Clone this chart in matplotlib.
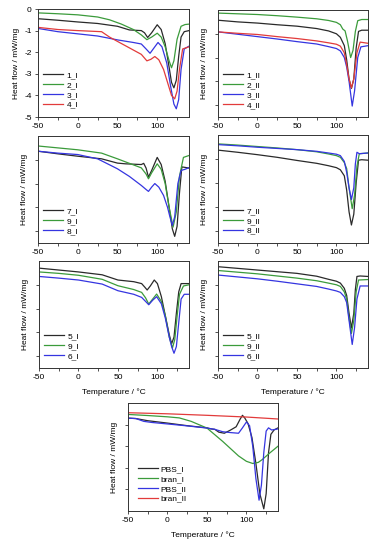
import numpy as np
import matplotlib
matplotlib.use('Agg')
import matplotlib.pyplot as plt
from matplotlib.ticker import MultipleLocator

plt.rcParams['font.family'] = ['Liberation Sans', 'DejaVu Sans']
plt.rcParams['font.size'] = 6
plt.rcParams['axes.unicode_minus'] = False
plt.rcParams['axes.linewidth'] = 0.7
plt.rcParams['axes.edgecolor'] = '#333333'

K, G, B, R = '#2a2a2a', '#3b9b3b', '#3535e0', '#e23b3b'

# ---- panel a: 1_I .. 4_I
t_1I = [-50, -25, 0, 25, 50, 65, 80, 84, 88, 93, 100, 105, 110, 115, 118, 121, 124, 127, 130, 134, 140]
h_1I = [-0.45, -0.52, -0.6, -0.67, -0.8, -0.97, -1.0, -1.1, -1.32, -1.1, -0.73, -0.95, -1.6, -2.7, -3.4, -3.65, -3.3, -2.2, -1.3, -1.05, -1.0]
t_2I = [-50, -25, 0, 25, 40, 55, 70, 80, 87, 93, 100, 105, 110, 115, 118, 121, 125, 130, 135, 140]
h_2I = [-0.18, -0.22, -0.27, -0.37, -0.5, -0.7, -0.95, -1.2, -1.42, -1.3, -1.12, -1.3, -1.75, -2.4, -2.72, -2.4, -1.4, -0.8, -0.72, -0.7]
t_3I = [-50, -25, 0, 25, 50, 70, 80, 86, 91, 96, 101, 106, 112, 117, 121, 124, 127, 130, 134, 140]
h_3I = [-0.9, -1.05, -1.15, -1.25, -1.43, -1.55, -1.62, -1.85, -2.05, -1.8, -1.55, -1.75, -2.5, -3.6, -4.4, -4.62, -4.2, -2.8, -1.85, -1.72]
t_4I = [-50, -25, 0, 30, 40, 50, 60, 70, 80, 87, 92, 97, 102, 108, 113, 118, 122, 125, 128, 132, 140]
h_4I = [-0.85, -0.95, -1.0, -1.05, -1.3, -1.5, -1.7, -1.9, -2.1, -2.4, -2.33, -2.2, -2.35, -2.8, -3.4, -4.0, -4.16, -3.8, -2.8, -1.85, -1.75]

# ---- panel b: 1_II .. 4_II
t_1II = [-50, -25, 0, 25, 50, 75, 90, 100, 105, 110, 113, 116, 119, 122, 125, 128, 132, 140]
h_1II = [-0.43, -0.5, -0.55, -0.62, -0.68, -0.78, -0.88, -1.0, -1.15, -1.5, -2.1, -2.9, -3.3, -2.9, -1.6, -0.9, -0.85, -0.85]
t_2II = [-50, -25, 0, 25, 50, 75, 90, 100, 105, 108, 111, 114, 118, 121, 124, 127, 132, 140]
h_2II = [-0.13, -0.16, -0.19, -0.24, -0.3, -0.37, -0.44, -0.52, -0.62, -0.8, -0.88, -1.3, -2.0, -1.7, -0.9, -0.45, -0.4, -0.4]
t_3II = [-50, -25, 0, 25, 50, 75, 90, 100, 105, 110, 113, 116, 120, 123, 127, 131, 140]
h_3II = [-0.92, -1.02, -1.12, -1.22, -1.33, -1.43, -1.54, -1.62, -1.72, -2.0, -2.4, -3.0, -4.04, -3.4, -2.0, -1.55, -1.5]
t_4II = [-50, -25, 0, 25, 50, 75, 90, 100, 105, 110, 113, 116, 119, 122, 126, 130, 140]
h_4II = [-0.92, -0.98, -1.03, -1.12, -1.2, -1.3, -1.38, -1.44, -1.52, -1.8, -2.3, -2.9, -3.28, -2.9, -1.8, -1.35, -1.4]

# ---- panel c: 7_I, 9_I, 8_I
t_7I = [-50, -25, 0, 30, 50, 60, 80, 83, 86, 89, 93, 100, 105, 110, 115, 119, 122, 125, 128, 131, 135, 140]
h_7I = [-0.64, -0.75, -0.85, -0.96, -1.14, -1.17, -1.2, -1.15, -1.35, -1.73, -1.45, -0.9, -1.2, -1.9, -3.0, -3.9, -4.22, -3.8, -2.4, -1.3, -1.32, -1.35]
t_9I = [-50, -25, 0, 30, 50, 65, 80, 86, 89, 93, 100, 105, 110, 115, 120, 124, 128, 133, 140]
h_9I = [-0.42, -0.5, -0.58, -0.72, -0.96, -1.15, -1.34, -1.6, -1.8, -1.55, -1.17, -1.4, -2.0, -3.0, -3.83, -3.2, -1.7, -0.9, -0.82]
t_8I = [-50, -25, 0, 25, 50, 65, 80, 86, 89, 93, 97, 102, 108, 113, 116, 119, 122, 126, 130, 135, 140]
h_8I = [-0.64, -0.72, -0.78, -0.96, -1.38, -1.7, -2.08, -2.25, -2.33, -2.15, -2.0, -2.15, -2.5, -3.0, -3.4, -3.76, -3.4, -2.0, -1.45, -1.4, -1.33]

# ---- panel d: 7_II, 9_II, 8_II
t_7II = [-50, -25, 0, 25, 50, 75, 90, 100, 105, 110, 113, 116, 119, 122, 125, 128, 132, 140]
h_7II = [-0.63, -0.72, -0.82, -0.93, -1.06, -1.18, -1.28, -1.36, -1.45, -1.7, -2.3, -3.2, -3.75, -3.3, -2.0, -1.05, -1.03, -1.05]
t_9II = [-50, -25, 0, 25, 50, 75, 90, 100, 105, 110, 113, 116, 120, 123, 126, 129, 140]
h_9II = [-0.37, -0.42, -0.48, -0.54, -0.61, -0.7, -0.79, -0.86, -0.93, -1.15, -1.4, -2.2, -3.07, -2.5, -1.3, -0.78, -0.75]
t_8II = [-50, -25, 0, 25, 50, 75, 90, 100, 105, 110, 113, 116, 119, 122, 124, 126, 129, 140]
h_8II = [-0.4, -0.45, -0.51, -0.56, -0.61, -0.68, -0.75, -0.8, -0.86, -1.1, -1.56, -2.2, -2.69, -2.2, -1.2, -0.72, -0.78, -0.75]

# ---- panel e: 5_I, 9_I, 6_I
t_5I = [-50, -25, 0, 30, 50, 70, 80, 84, 87, 91, 96, 100, 105, 110, 115, 118, 121, 124, 127, 130, 140]
h_5I = [-0.3, -0.38, -0.46, -0.58, -0.8, -0.87, -0.95, -1.1, -1.22, -1.05, -0.8, -0.95, -1.5, -2.3, -3.1, -3.48, -3.2, -2.2, -1.3, -0.95, -0.95]
t_9Ib = [-50, -25, 0, 30, 50, 70, 80, 85, 89, 94, 99, 105, 110, 115, 119, 122, 125, 128, 133, 140]
h_9Ib = [-0.46, -0.52, -0.6, -0.77, -1.04, -1.2, -1.32, -1.55, -1.81, -1.6, -1.39, -1.7, -2.3, -3.2, -3.66, -3.3, -2.3, -1.4, -1.05, -1.0]
t_6I = [-50, -25, 0, 30, 50, 70, 80, 85, 89, 94, 99, 105, 110, 115, 118, 121, 124, 127, 130, 134, 140]
h_6I = [-0.65, -0.72, -0.8, -0.97, -1.25, -1.4, -1.53, -1.7, -1.84, -1.65, -1.5, -1.8, -2.4, -3.2, -3.6, -3.88, -3.6, -2.6, -1.6, -1.4, -1.4]

# ---- panel f: 5_II, 9_II, 6_II
t_5II = [-50, -25, 0, 25, 50, 75, 90, 100, 105, 110, 113, 116, 119, 122, 124, 126, 130, 140]
h_5II = [-0.24, -0.31, -0.38, -0.45, -0.52, -0.64, -0.77, -0.85, -0.93, -1.15, -1.45, -2.2, -2.82, -2.2, -1.2, -0.65, -0.63, -0.65]
t_9IIb = [-50, -25, 0, 25, 50, 75, 90, 100, 105, 110, 113, 116, 119, 122, 125, 128, 140]
h_9IIb = [-0.4, -0.47, -0.54, -0.63, -0.72, -0.83, -0.93, -1.0, -1.07, -1.3, -1.6, -2.4, -3.05, -2.5, -1.3, -0.8, -0.78]
t_6II = [-50, -25, 0, 25, 50, 75, 90, 100, 105, 110, 113, 116, 120, 123, 126, 130, 140]
h_6II = [-0.59, -0.67, -0.75, -0.85, -0.96, -1.07, -1.18, -1.26, -1.32, -1.5, -1.75, -2.5, -3.51, -2.8, -1.6, -1.05, -1.05]

# ---- panel g: PBS and bran
t_PBSI = [-50, -40, -25, 0, 25, 50, 55, 60, 65, 72, 80, 87, 92, 95, 98, 102, 107, 112, 117, 122, 125, 128, 131, 135, 140]
h_PBSI = [-0.7, -0.72, -0.82, -0.93, -1.05, -1.15, -1.2, -1.22, -1.35, -1.4, -1.25, -1.1, -0.75, -0.57, -0.7, -0.95, -1.6, -2.8, -4.2, -4.9, -4.2, -2.3, -1.45, -1.25, -1.15]
t_branI = [-50, -25, 0, 15, 30, 50, 70, 90, 100, 108, 115, 120, 130, 140]
h_branI = [-0.53, -0.58, -0.64, -0.69, -0.85, -1.16, -1.78, -2.45, -2.7, -2.8, -2.75, -2.62, -2.3, -2.0]
t_PBSII = [-50, -40, -30, -20, 0, 25, 50, 60, 70, 80, 90, 95, 100, 104, 108, 112, 116, 119, 122, 125, 128, 132, 140]
h_PBSII = [-0.7, -0.72, -0.85, -0.9, -0.97, -1.06, -1.16, -1.22, -1.33, -1.37, -1.4, -1.15, -0.88, -1.05, -2.0, -3.5, -4.5, -3.8, -2.3, -1.3, -1.15, -1.25, -1.2]
t_branII = [-50, 0, 50, 100, 140]
h_branII = [-0.45, -0.5, -0.57, -0.65, -0.74]

W, H = 380.0, 550.0
fig = plt.figure(figsize=(W / 100, H / 100), dpi=100)


def make_ax(l, r, t, b):
    return fig.add_axes([l / W, 1 - b / H, (r - l) / W, (b - t) / H])


def style(ax, ylim, ylabels=False, xlabel=False):
    ax.set_xlim(-50, 140)
    ax.set_ylim(*ylim)
    ax.set_xticks([-50, 0, 50, 100])
    ax.xaxis.set_minor_locator(MultipleLocator(25))
    ax.tick_params(which='both', direction='out', length=2.5, width=0.6,
                   pad=2, colors='#333333', labelcolor='black')
    if ylabels:
        ax.set_yticks([0, -1, -2, -3, -4, -5])
        ax.set_yticklabels(['0', '-1', '-2', '-3', '-4', '-5'])
    else:
        ax.set_yticks([-1, -2, -3, -4])
        ax.set_yticklabels([])
    ax.set_ylabel('Heat flow / mW/mg', labelpad=3)
    if xlabel:
        ax.set_xlabel('Temperature / \u00b0C', labelpad=5)


def draw(ax, curves, anchor=(0.0, 0.03)):
    for t, h, c, lab in curves:
        ax.plot(t, h, color=c, lw=0.9, label=lab)
    ax.legend(loc='lower left', bbox_to_anchor=anchor, frameon=False,
              handlelength=2.4, handletextpad=0.4, labelspacing=0.25,
              borderpad=0.3, borderaxespad=0.3)


ax1 = make_ax(38, 189, 9, 117)
draw(ax1, [(t_1I, h_1I, K, '1_I'), (t_2I, h_2I, G, '2_I'),
           (t_3I, h_3I, B, '3_I'), (t_4I, h_4I, R, '4_I')])
style(ax1, (-5, 0), ylabels=True)

ax2 = make_ax(218, 368, 10, 117)
draw(ax2, [(t_1II, h_1II, K, '1_II'), (t_2II, h_2II, G, '2_II'),
           (t_3II, h_3II, B, '3_II'), (t_4II, h_4II, R, '4_II')])
style(ax2, (-4.5, 0))

ax3 = make_ax(38, 189, 136, 243)
draw(ax3, [(t_7I, h_7I, K, '7_I'), (t_9I, h_9I, G, '9_I'),
           (t_8I, h_8I, B, '8_I')])
style(ax3, (-4.5, 0))

ax4 = make_ax(218, 368, 135, 243)
draw(ax4, [(t_7II, h_7II, K, '7_II'), (t_9II, h_9II, G, '9_II'),
           (t_8II, h_8II, B, '8_II')])
style(ax4, (-4.5, 0))

ax5 = make_ax(39, 189, 261, 368)
draw(ax5, [(t_5I, h_5I, K, '5_I'), (t_9Ib, h_9Ib, G, '9_I'),
           (t_6I, h_6I, B, '6_I')])
style(ax5, (-4.5, 0), xlabel=True)

ax6 = make_ax(218, 368, 261, 368)
draw(ax6, [(t_5II, h_5II, K, '5_II'), (t_9IIb, h_9IIb, G, '9_II'),
           (t_6II, h_6II, B, '6_II')])
style(ax6, (-4.5, 0), xlabel=True)

ax7 = make_ax(128, 278, 403, 511)
draw(ax7, [(t_PBSI, h_PBSI, K, 'PBS_I'), (t_branI, h_branI, G, 'bran_I'),
           (t_PBSII, h_PBSII, B, 'PBS_II'), (t_branII, h_branII, R, 'bran_II')],
     anchor=(0.03, 0.03))
style(ax7, (-5, 0), xlabel=True)

plt.savefig('out.png', dpi=100)
